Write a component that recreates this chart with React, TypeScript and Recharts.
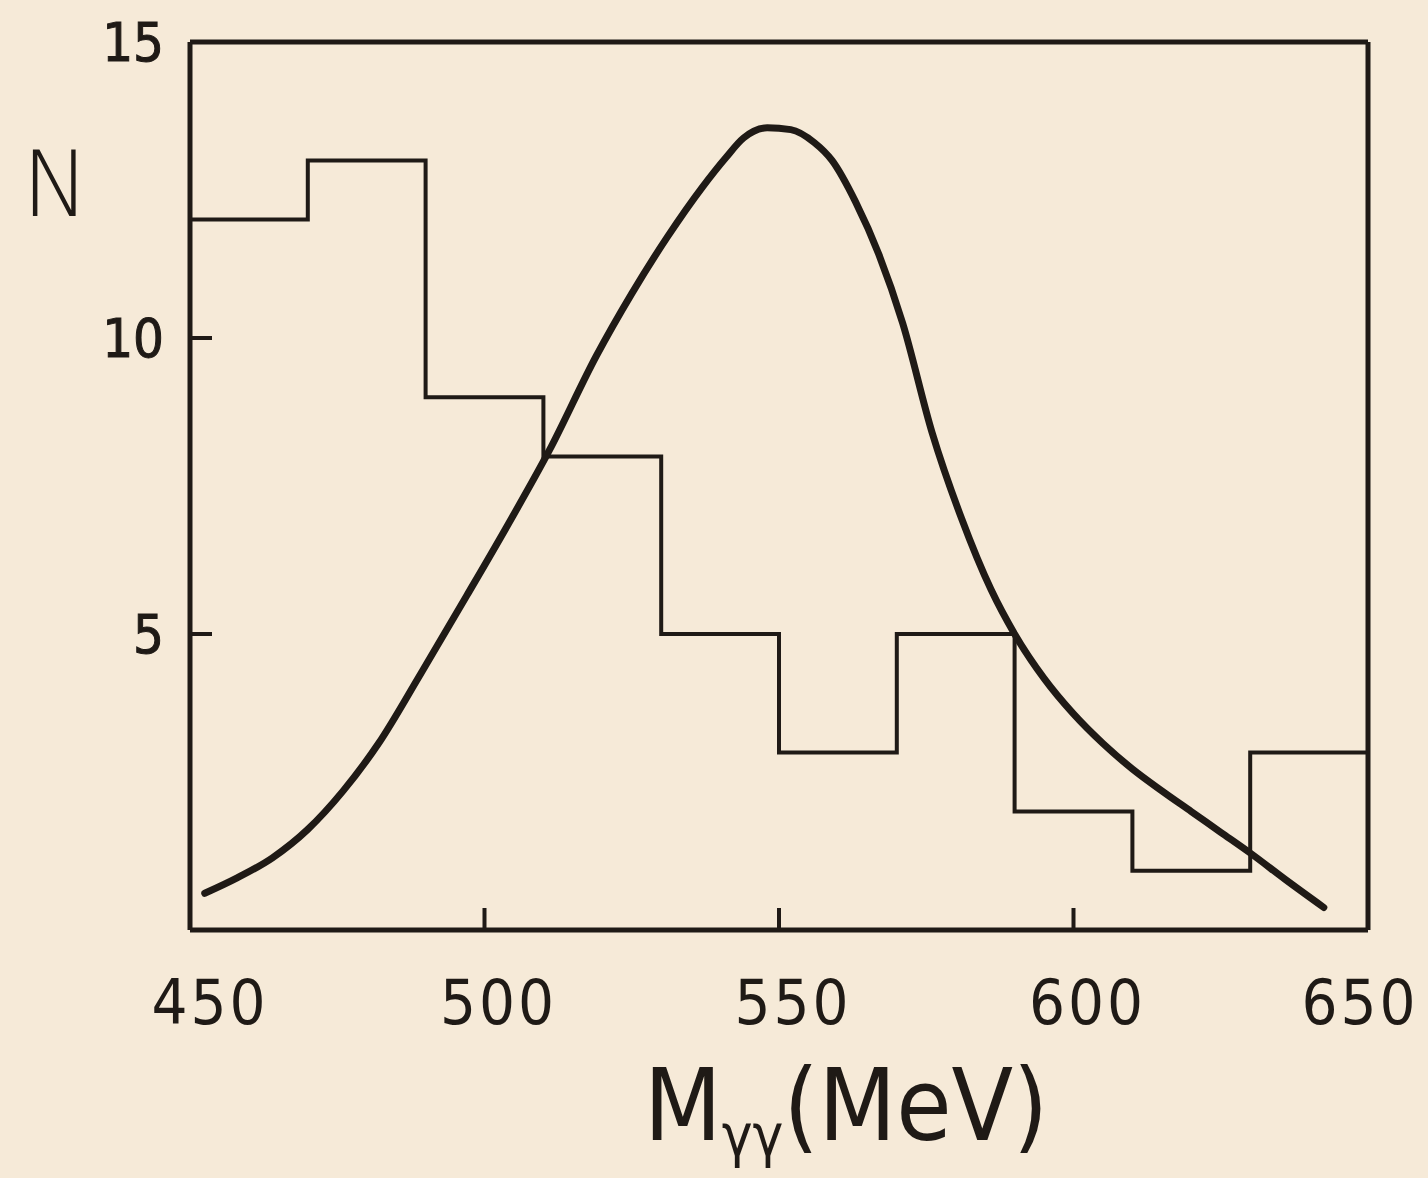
import React from 'react';
import { ComposedChart, Line, XAxis, YAxis } from 'recharts';

// histogram bins (MeV edges) and counts
const binEdges = [450, 470, 490, 510, 530, 550, 570, 590, 610, 630, 650];
const binCounts = [12, 13, 9, 8, 5, 3, 5, 2, 1, 3];

// fitted curve
const curveMass = [452.5, 458, 464, 470, 476, 482, 489, 497, 504, 511, 519, 525, 531, 537, 541, 544, 548, 552, 556, 559, 563, 567, 571, 576, 581, 586, 590, 595, 600, 605, 610, 615, 620, 625, 630, 636, 642.5];
const curveN = [0.62, 0.88, 1.22, 1.7, 2.35, 3.15, 4.3, 5.65, 6.85, 8.1, 9.7, 10.75, 11.7, 12.55, 13.05, 13.38, 13.55, 13.52, 13.3, 13.0, 12.3, 11.4, 10.25, 8.4, 6.95, 5.75, 5.0, 4.25, 3.65, 3.15, 2.72, 2.35, 2.0, 1.65, 1.3, 0.85, 0.38];

const xTicks = [450, 500, 550, 600, 650];
const yTicks = [5, 10, 15];

const ink = '#1f1a16';
const paper = '#f6ead8';
const tickFont = "'DejaVu Sans Condensed', 'Liberation Sans Narrow', 'DejaVu Sans', sans-serif";

const histData = binEdges.map((e, i) => ({ m: e, n: binCounts[Math.min(i, binCounts.length - 1)] }));
const curveData = curveMass.map((m, i) => ({ m, n: curveN[i] }));

const inner = (v: number, lo: number, hi: number) => v > lo && v < hi;

function BottomTick({ x, y, payload }: any) {
    const v = payload.value;
    const dx = v === 650 ? -8 : v === 450 ? 20 : 14;
    return (
        <g>
            {inner(v, 450, 650) && <line x1={x} y1={y} x2={x} y2={y - 22} stroke={ink} strokeWidth={4} />}
            <text x={x + dx} y={y + 94} textAnchor="middle" fill={ink} fontSize={63} fontFamily={tickFont} letterSpacing={3}>
                {v}
            </text>
        </g>
    );
}

function TopTick({ x, y, payload }: any) {
    if (!inner(payload.value, 450, 650)) return <g />;
    return <line x1={x} y1={y} x2={x} y2={y + 22} stroke={ink} strokeWidth={4} />;
}

function LeftTick({ x, y, payload }: any) {
    const v = payload.value;
    return (
        <g>
            {inner(v, 0, 15) && <line x1={x} y1={y} x2={x + 22} y2={y} stroke={ink} strokeWidth={4} />}
            <text x={x - 26} y={y + 19} textAnchor="end" fill={ink} fontSize={54} fontFamily={tickFont} stroke={ink} strokeWidth={1}>
                {v}
            </text>
        </g>
    );
}

function RightTick({ x, y, payload }: any) {
    if (!inner(payload.value, 0, 15)) return <g />;
    return <line x1={x} y1={y} x2={x - 22} y2={y} stroke={ink} strokeWidth={4} />;
}

export default function App() {
    const frame = { stroke: ink, strokeWidth: 5 };
    return (
        <div style={{ position: 'absolute', left: 0, top: 0, width: 1428, height: 1178, background: paper, overflow: 'hidden' }}>
            <ComposedChart width={1428} height={1178} margin={{ top: 41, right: 59, bottom: 247, left: 189 }}>
                <XAxis xAxisId="b" type="number" dataKey="m" domain={[450, 650]} ticks={xTicks} orientation="bottom"
                    height={1} tickSize={0} tickMargin={0} axisLine={frame} tickLine={false} tick={<BottomTick />} interval={0} />
                <XAxis xAxisId="t" type="number" dataKey="m" domain={[450, 650]} ticks={xTicks} orientation="top"
                    height={1} tickSize={0} tickMargin={0} axisLine={frame} tickLine={false} tick={<TopTick />} interval={0} />
                <YAxis yAxisId="l" type="number" domain={[0, 15]} ticks={yTicks} orientation="left"
                    width={1} tickSize={0} tickMargin={0} axisLine={frame} tickLine={false} tick={<LeftTick />} interval={0} />
                <YAxis yAxisId="r" type="number" domain={[0, 15]} ticks={yTicks} orientation="right"
                    width={1} tickSize={0} tickMargin={0} axisLine={frame} tickLine={false} tick={<RightTick />} interval={0} />
                <Line xAxisId="b" yAxisId="l" data={histData} dataKey="n" type="stepAfter" stroke={ink} strokeWidth={4}
                    dot={false} activeDot={false} isAnimationActive={false} strokeLinejoin="miter" />
                <Line xAxisId="b" yAxisId="l" data={curveData} dataKey="n" type="monotone" stroke={ink} strokeWidth={7}
                    dot={false} activeDot={false} isAnimationActive={false} strokeLinecap="round" />
            </ComposedChart>
            <div style={{ position: 'absolute', left: 22, top: 140, fontSize: 90, fontFamily: "'DejaVu Sans', sans-serif", fontWeight: 200, color: ink, lineHeight: 1 }}>
                N
            </div>
            <div style={{ position: 'absolute', left: 644, top: 1056, fontSize: 100, fontFamily: "'DejaVu Sans Condensed', 'DejaVu Sans', sans-serif", fontWeight: 200, color: ink, lineHeight: 1, whiteSpace: 'nowrap' }}>
                M<span style={{ fontSize: 58, position: 'relative', top: 16 }}>γγ</span>(MeV)
            </div>
        </div>
    );
}
